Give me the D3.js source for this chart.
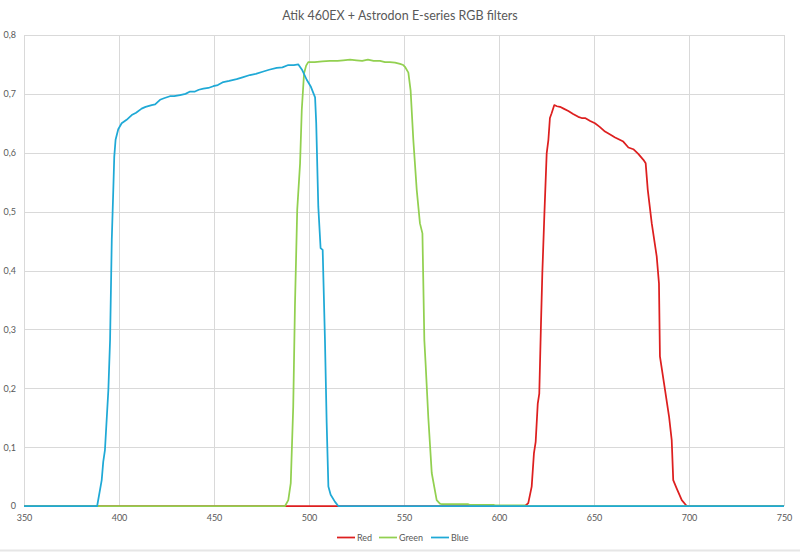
<!DOCTYPE html>
<html><head><meta charset="utf-8">
<script src="https://cdn.jsdelivr.net/npm/d3@7/dist/d3.min.js"></script>
<style>
html,body{margin:0;padding:0;background:#fff;}
svg{display:block;font-family:Lato,"Open Sans",sans-serif;}
</style></head>
<body>
<svg id="chart" width="800" height="552"></svg>
<script>
const title = "Atik 460EX + Astrodon E-series RGB filters";
const xTicks = [350,400,450,500,550,600,650,700,750];
const yTicks = [0,0.1,0.2,0.3,0.4,0.5,0.6,0.7,0.8];
const seriesNames = ["Red","Green","Blue"];
const seriesColors = ["#dd1f1f","#92d050","#1fa9d6"];

const redX = [350,613.7,615.4,617.2,618.4,619.3,620.4,621.2,622.1,622.8,623.9,625.1,626.0,626.8,627.7,629.1,630.5,632.1,634,636.5,639,641.7,643.5,645.3,648,650.5,653,655.8,658.5,661.1,663,665.4,668.1,670.7,673.3,676,677.2,678.3,680.4,683,684.2,684.7,687.4,689.5,690.9,691.7,693.5,696.2,698.8,750];
const redY = [0,0,0.005,0.033,0.090,0.109,0.174,0.191,0.310,0.395,0.497,0.599,0.622,0.659,0.667,0.681,0.679,0.678,0.675,0.671,0.666,0.661,0.659,0.659,0.654,0.650,0.644,0.636,0.631,0.626,0.623,0.619,0.609,0.606,0.598,0.588,0.582,0.537,0.480,0.424,0.378,0.254,0.197,0.152,0.112,0.044,0.030,0.010,0,0];

const greenX = [350,487.4,489.1,490.4,491.7,492.6,493.8,495.3,496.2,497.4,498.5,499.6,503,507,511,515,518,521.6,525,528,531,534,537.4,540,542.6,545.3,547.9,549.6,550.5,552.3,553.5,554.9,556.7,558.4,559.7,560.7,561.4,562.8,564.6,567.2,568.9,570,583.8,584.5,597,598,613.5,615,750];
const greenY = [0,0,0.010,0.039,0.169,0.339,0.503,0.582,0.673,0.735,0.748,0.754,0.754,0.755,0.756,0.756,0.757,0.758,0.757,0.756,0.758,0.756,0.756,0.754,0.754,0.753,0.751,0.749,0.746,0.736,0.705,0.622,0.537,0.480,0.463,0.282,0.240,0.150,0.056,0.010,0.004,0.003,0.003,0.002,0.002,0.001,0.001,0,0];

const blueX = [350,388.5,390.9,391.7,392.6,394.4,395.3,396.2,397.0,397.5,398.2,399.6,401.4,404,406.7,409,411.9,414,417.2,419,421.6,424,426.8,429,432.1,435,437.4,440,442,444.4,447,449.6,452,454.9,458,461.9,465,468.9,472,476,479,483,486,489.1,492,494.4,496.5,498.8,501,503.2,503.8,504.9,506.1,507.2,508.4,509.3,510.2,511.4,513.7,515.4,750];
const blueY = [0,0,0.044,0.075,0.095,0.197,0.282,0.452,0.537,0.593,0.622,0.640,0.650,0.656,0.664,0.668,0.675,0.678,0.681,0.682,0.690,0.693,0.696,0.696,0.698,0.700,0.704,0.704,0.707,0.709,0.710,0.713,0.715,0.720,0.722,0.725,0.728,0.732,0.734,0.738,0.741,0.744,0.745,0.749,0.749,0.750,0.740,0.724,0.712,0.694,0.650,0.508,0.438,0.435,0.282,0.141,0.033,0.019,0.007,0,0];

const seriesX = [redX, greenX, blueX];
const seriesY = [redY, greenY, blueY];

const svg = d3.select("#chart");
const W = 800, H = 552;
const m = {left:24, right:16, top:35, bottom:46};
const x = d3.scaleLinear().domain([350,750]).range([m.left, W - m.right]);
const y = d3.scaleLinear().domain([0,0.8]).range([H - m.bottom, m.top]);
const textColor = "#595959";
const gridColor = "#d9d9d9";

svg.append("line").attr("x1",0).attr("x2",W).attr("y1",550.5).attr("y2",550.5)
  .attr("stroke","#e6e6e6").attr("stroke-width",2);

svg.append("text").attr("x",400).attr("y",20).attr("text-anchor","middle")
  .attr("font-size",12.5).attr("fill",textColor).text(title);

// gridlines
const g = svg.append("g");
g.selectAll("line.v").data(xTicks).join("line").attr("class","v")
  .attr("x1",d=>Math.round(x(d))+0.5).attr("x2",d=>Math.round(x(d))+0.5)
  .attr("y1",y(0.8)).attr("y2",y(0)).attr("stroke",gridColor).attr("stroke-width",1);
g.selectAll("line.h").data(yTicks).join("line").attr("class","h")
  .attr("x1",x(350)).attr("x2",x(750))
  .attr("y1",d=>Math.round(y(d))+0.5).attr("y2",d=>Math.round(y(d))+0.5)
  .attr("stroke",gridColor).attr("stroke-width",1);

// axes via d3 axis generators, styled
const fmtY = d => d === 0 ? "0" : d3.format(".1f")(d).replace(".", ",");
const xAxis = svg.append("g").attr("transform",`translate(0,${y(0)})`)
  .call(d3.axisBottom(x).tickValues(xTicks).tickSize(0).tickPadding(9).tickFormat(d3.format("d")));
const yAxis = svg.append("g").attr("transform",`translate(${x(350)},0)`)
  .call(d3.axisLeft(y).tickValues(yTicks).tickSize(0).tickPadding(8).tickFormat(fmtY));
[xAxis,yAxis].forEach(a=>{
  a.select(".domain").remove();
  a.selectAll("text").attr("fill",textColor).attr("font-size",9).attr("font-family","Lato,'Open Sans',sans-serif");
});

// lines
const line = d3.line().x(d=>x(d[0])).y(d=>y(d[1]));
seriesNames.forEach((name,i)=>{
  const pts = seriesX[i].map((v,j)=>[v, seriesY[i][j]]);
  svg.append("path").datum(pts).attr("d",line).attr("fill","none")
    .attr("stroke",seriesColors[i]).attr("stroke-width",1.75)
    .attr("stroke-linejoin","round");
});

// legend
const legendPos = [337, 379, 431];
const lg = svg.append("g");
seriesNames.forEach((name,i)=>{
  const lx = legendPos[i];
  lg.append("line").attr("x1",lx).attr("x2",lx+18).attr("y1",537.5).attr("y2",537.5)
    .attr("stroke",seriesColors[i]).attr("stroke-width",1.75);
  lg.append("text").attr("x",lx+20).attr("y",540.5).attr("font-size",9)
    .attr("fill",textColor).text(name);
});
</script>
</body></html>
